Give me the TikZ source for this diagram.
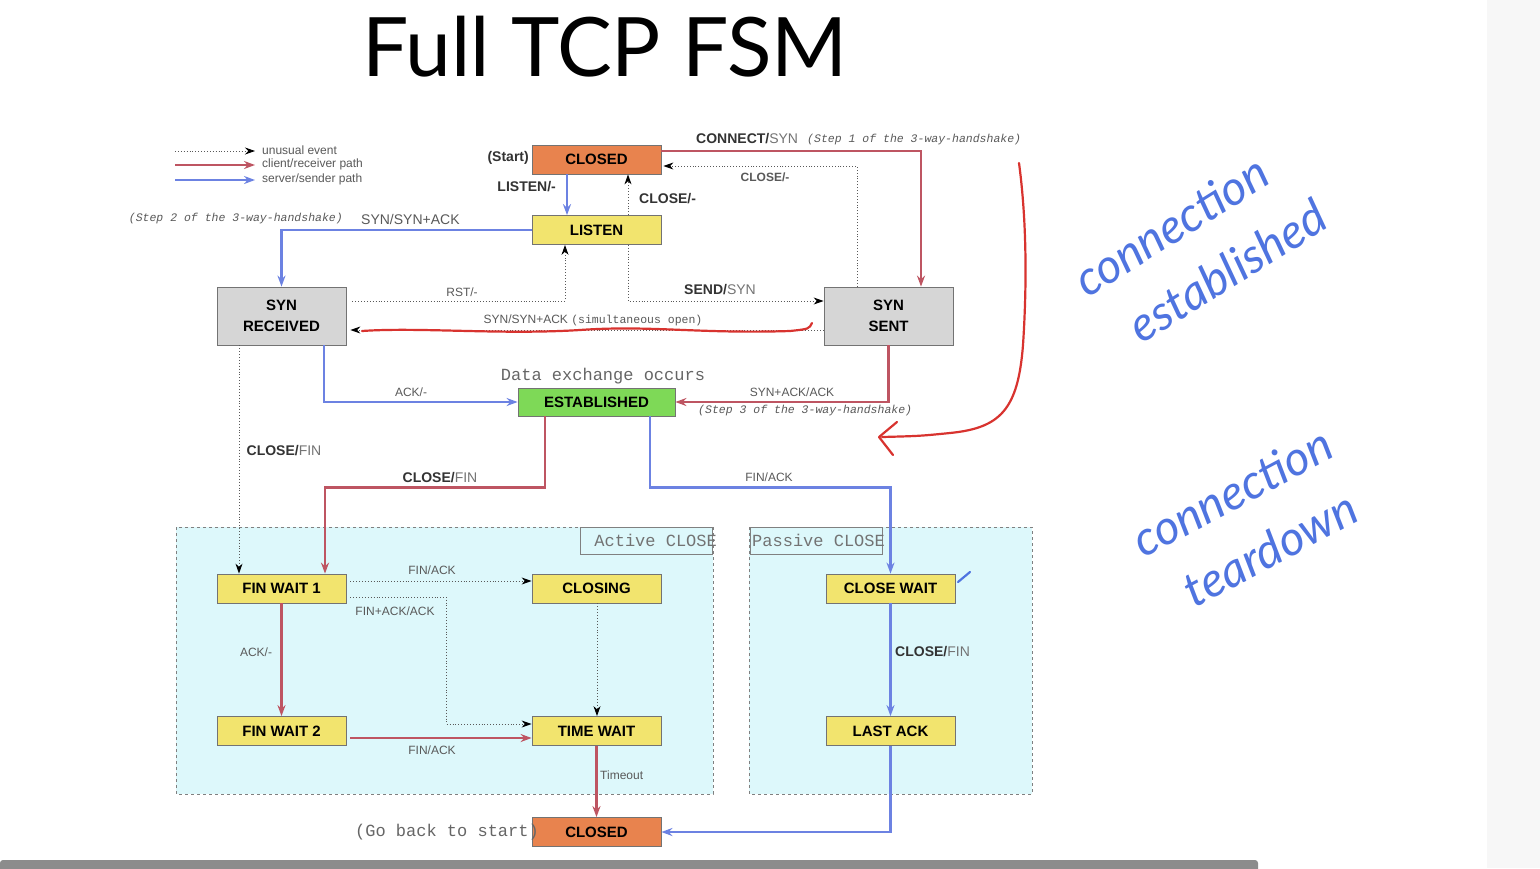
\documentclass[tikz,border=0pt]{standalone}
\usepackage{fontspec}
\setmainfont{Liberation Sans}
\newfontfamily\monofont{Liberation Mono}
\newfontfamily\titlefont{Lato}
\newfontfamily\handfont{Lato}
\usetikzlibrary{arrows.meta}

\definecolor{closedorange}{HTML}{E8834E}
\definecolor{stateyellow}{HTML}{F2E46E}
\definecolor{stategray}{HTML}{D6D6D6}
\definecolor{estgreen}{HTML}{7ED957}
\definecolor{clientred}{HTML}{BE5562}
\definecolor{serverblue}{HTML}{6C82E2}
\definecolor{regioncyan}{HTML}{DDF8FB}
\definecolor{inkblue}{HTML}{4F74E0}
\definecolor{inkred}{HTML}{D8332F}

\begin{document}
\begin{tikzpicture}[x=1pt, y=-1pt,
    state/.style={draw=black!55, line width=0.8pt, minimum width=129pt,
      minimum height=29pt, inner sep=0pt, align=center,
      font=\fontsize{15}{21}\selectfont\bfseries},
    closedst/.style={state, fill=closedorange},
    waitst/.style={state, fill=stateyellow},
    synst/.style={state, fill=stategray, minimum height=58pt},
    estst/.style={state, fill=estgreen, minimum width=157pt, minimum height=28pt},
    client/.style={draw=clientred, line width=2.2pt,
      -{Stealth[length=11pt, width=8pt]}},
    server/.style={draw=serverblue, line width=2.2pt,
      -{Stealth[length=11pt, width=8pt]}},
    unusual/.style={draw=black!65, dotted, line width=0.9pt,
      -{Stealth[length=10pt, width=7pt, black]}},
    lbl/.style={font=\fontsize{14}{16}\selectfont, text=black!80, inner sep=1pt},
    smalllbl/.style={font=\fontsize{12}{14}\selectfont, text=black!65, inner sep=1pt},
    stepnote/.style={font=\monofont\itshape\fontsize{11.5}{13}\selectfont,
      text=black!65, inner sep=1pt},
    mononote/.style={font=\monofont\fontsize{17}{19}\selectfont, text=black!60,
      inner sep=1pt},
    region/.style={draw=black!50, dashed, line width=0.9pt, fill=regioncyan},
    regionbox/.style={draw=black!50, line width=0.8pt, fill=regioncyan,
      minimum width=132pt, minimum height=27pt, inner sep=0pt},
    regiontitle/.style={anchor=west, inner sep=0pt,
      font=\monofont\fontsize{17}{19}\selectfont, text=black!55},
    ink/.style={inkblue, align=left, inner sep=0pt,
      font=\handfont\itshape\fontsize{48}{68}\selectfont}
  ]

  \useasboundingbox (0,0) rectangle (1540,868);
  \fill[white] (0,0) rectangle (1540,868);
  \fill[black!3] (1487,0) rectangle (1540,868);
  \fill[black!45, rounded corners=3pt] (0,860) rectangle (1258,872);

  % title
  \node[font=\titlefont\fontsize{82}{90}\selectfont] (title) at (605,47) {Full TCP FSM};

  % legend
  \coordinate (legA) at (175,151);
  \coordinate (legB) at (175,165);
  \coordinate (legC) at (175,180);
  \draw[unusual] (legA) -- ++(80,0);
  \draw[client] (legB) -- ++(80,0);
  \draw[server] (legC) -- ++(80,0);
  \node[smalllbl, anchor=west] (legunusual) at (261,150) {unusual event};
  \node[smalllbl, anchor=west] (legclient) at (261,164) {client/receiver path};
  \node[smalllbl, anchor=west] (legserver) at (261,179) {server/sender path};

  % regions
  \draw[region] (176,527) rectangle (713,794);
  \draw[region] (749,527) rectangle (1032,794);
  \node[regionbox, anchor=north east] (activebox) at (713,527) {};
  \node[regiontitle] (activetitle) at ([xshift=14pt]activebox.west) {Active CLOSE};
  \node[regionbox, anchor=north west] (passivebox) at (750,527) {};
  \node[regiontitle] (passivetitle) at ([xshift=2pt]passivebox.west) {Passive CLOSE};

  % states
  \node[closedst] (closedT) at (596.5,159.5) {CLOSED};
  \node[waitst] (listen) at (596.5,230) {LISTEN};
  \node[synst] (synrcvd) at (281.5,316) {SYN\\RECEIVED};
  \node[synst] (synsent) at (888.5,316) {SYN\\SENT};
  \node[estst] (estab) at (596.5,402) {ESTABLISHED};
  \node[waitst] (finwait1) at (281.5,588.5) {FIN WAIT 1};
  \node[waitst] (closing) at (596.5,588.5) {CLOSING};
  \node[waitst] (finwait2) at (281.5,731) {FIN WAIT 2};
  \node[waitst] (timewait) at (596.5,731) {TIME WAIT};
  \node[waitst] (closewait) at (890.5,588.5) {CLOSE WAIT};
  \node[waitst] (lastack) at (890.5,731) {LAST ACK};
  \node[closedst] (closedB) at (596.5,832) {CLOSED};

  % connectors
  \draw[server] ([xshift=-29.5pt]closedT.south) -- ([xshift=-29.5pt]listen.north);
  \draw[unusual] ([xshift=31.5pt]listen.north) -- ([xshift=31.5pt]closedT.south);
  \draw[client] ([yshift=8.5pt]closedT.east) -| ([xshift=32.5pt]synsent.north);
  \draw[unusual] ([xshift=-31.5pt]synsent.north) |- ([yshift=-6.5pt, xshift=2pt]closedT.east);
  \draw[server] (listen.west) -| (synrcvd.north);
  \draw[unusual, shorten <=6pt] ([yshift=15pt]synrcvd.east) -| ([xshift=-31.5pt]listen.south);
  \draw[unusual] ([xshift=31.5pt]listen.south) |- ([yshift=15pt]synsent.west);
  \draw[unusual] ([yshift=-14pt]synsent.west) -- ([yshift=-14pt, xshift=4pt]synrcvd.east);
  \draw[server] ([xshift=42.5pt]synrcvd.south) |- (estab.west);
  \draw[client] (synsent.south) |- (estab.east);
  \draw[unusual] ([xshift=-42.5pt]synrcvd.south) -- ([xshift=-42.5pt]finwait1.north);
  \draw[client] ([xshift=-51.5pt]estab.south) -- ++(0,71) -| ([xshift=43.5pt]finwait1.north);
  \draw[server] ([xshift=53.5pt]estab.south) -- ++(0,71) -| (closewait.north);
  \draw[unusual, shorten <=4pt] ([yshift=7.5pt]finwait1.east) -- ([yshift=7.5pt]closing.west);
  \draw[unusual, shorten <=4pt] ([yshift=-8.5pt]finwait1.east) -- ++(100,0) |- ([yshift=7pt]timewait.west);
  \draw[unusual] ([xshift=0.5pt]closing.south) -- ([xshift=0.5pt]timewait.north);
  \draw[client] (finwait1.south) -- (finwait2.north);
  \draw[client, shorten <=4pt] ([yshift=-7pt]finwait2.east) -- ([yshift=-7pt]timewait.west);
  \draw[client] (timewait.south) -- (closedB.north);
  \draw[server] (closewait.south) -- (lastack.north);
  \draw[server] (lastack.south) |- (closedB.east);

  % labels
  \node[lbl, font=\fontsize{14}{16}\selectfont\bfseries, anchor=east] (startlbl) at (530,158) {(Start)};
  \node[lbl, font=\fontsize{14}{16}\selectfont\bfseries, anchor=east] (listenlbl) at (557,187) {LISTEN/-};
  \node[lbl, font=\fontsize{14}{16}\selectfont\bfseries, anchor=west] (closelbl) at (638,199) {CLOSE/-};
  \node[lbl, anchor=west] (connectlbl) at (695,139) {\textbf{CONNECT/}\textcolor{black!55}{SYN}};
  \node[stepnote, anchor=west] (step1) at (806,140) {(Step 1 of the 3-way-handshake)};
  \node[smalllbl, font=\fontsize{12}{14}\selectfont\bfseries, anchor=center] (closelbl2) at (765,177) {CLOSE/-};
  \node[stepnote, anchor=east] (step2) at (344,219) {(Step 2 of the 3-way-handshake)};
  \node[lbl, text=black!65, anchor=west] (synsynack) at (360,219) {SYN/SYN+ACK};
  \node[smalllbl] (rstlbl) at (462,292) {RST/-};
  \node[lbl, anchor=center] (sendlbl) at (720,290) {\textbf{SEND/}\textcolor{black!55}{SYN}};
  \node[smalllbl, anchor=center] (simlbl) at (593,320) {SYN/SYN+ACK {\monofont\fontsize{11.5}{13}\selectfont(simultaneous open)}};
  \node[mononote] (datalbl) at (603,376) {Data exchange occurs};
  \node[smalllbl] (acklbl) at (411,392) {ACK/-};
  \node[smalllbl] (synacklbl) at (792,392) {SYN+ACK/ACK};
  \node[stepnote, anchor=west] (step3) at (697,411) {(Step 3 of the 3-way-handshake)};
  \node[lbl, anchor=center] (closefin1) at (284,451) {\textbf{CLOSE/}\textcolor{black!55}{FIN}};
  \node[lbl, anchor=center] (closefin2) at (440,478) {\textbf{CLOSE/}\textcolor{black!55}{FIN}};
  \node[smalllbl] (finacklbl) at (769,477) {FIN/ACK};
  \node[smalllbl] (finack1) at (432,570) {FIN/ACK};
  \node[smalllbl] (finackack) at (395,611) {FIN+ACK/ACK};
  \node[smalllbl] (ackfw) at (256,652) {ACK/-};
  \node[smalllbl] (finack2) at (432,750) {FIN/ACK};
  \node[smalllbl, anchor=west] (timeoutlbl) at (599,775) {Timeout};
  \node[lbl, anchor=west] (closefin3) at (894,652) {\textbf{CLOSE/}\textcolor{black!55}{FIN}};
  \node[mononote, anchor=east] (gobacklbl) at (540,832) {(Go back to start)};

  % hand-drawn notes
  \draw[inkred, line width=2.2pt, line cap=round]
    (812,323) .. controls (809,329) .. (790,331)
    .. controls (700,334) and (650,325) .. (580,330)
    .. controls (500,335) and (420,327) .. (362,331);
  \draw[inkred, line width=2.2pt, line cap=round, line join=round]
    (1019,163) .. controls (1028,230) and (1026,300) .. (1023,345)
    .. controls (1018,410) and (1000,428) .. (950,433)
    .. controls (920,436) .. (882,437);
  \draw[inkred, line width=2.2pt, line cap=round, line join=round]
    (897,422) -- (879,437) -- (893,455);
  \draw[inkblue, line width=2.2pt, line cap=round] (958,582) -- (970,572);
  \node[ink, rotate=32] (inkestab) at (1200,248) {connection\\\hspace*{22pt}established};
  \node[ink, rotate=28] (inkteardown) at (1248,522) {connection\\\hspace*{22pt}teardown};
\end{tikzpicture}
\end{document}
